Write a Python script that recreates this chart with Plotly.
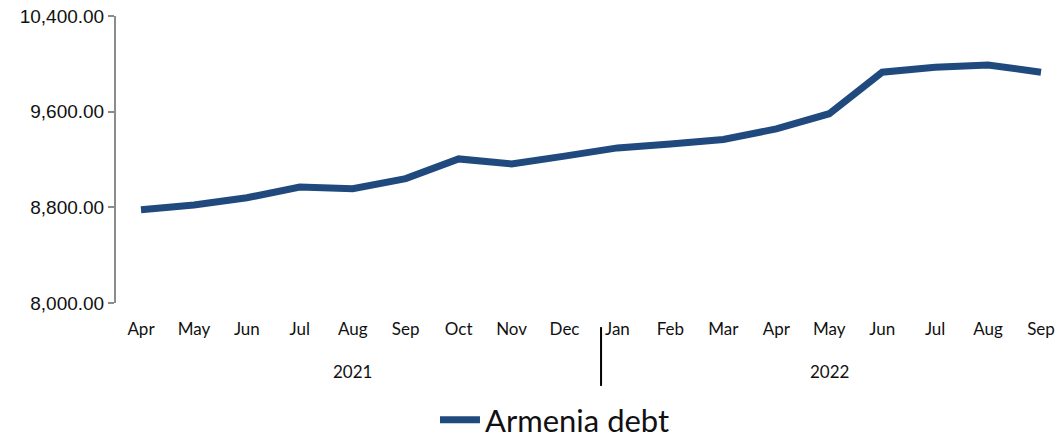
import plotly.graph_objects as go

# Monthly debt series, April 2021 – September 2022
months = ["Apr", "May", "Jun", "Jul", "Aug", "Sep", "Oct", "Nov", "Dec",
          "Jan", "Feb", "Mar", "Apr", "May", "Jun", "Jul", "Aug", "Sep"]
years = ["2021", "2022"]
year_month_counts = [9, 9]
debt = [8780, 8820, 8880, 8970, 8955, 9040, 9205, 9163, 9228,
        9297, 9330, 9367, 9456, 9583, 9930, 9972, 9990, 9930]
y_ticks = [8000, 8800, 9600, 10400]

x = list(range(len(months)))
line_color = "#204A7E"
text_font = "Lato, 'Open Sans', sans-serif"

fig = go.Figure()
fig.add_trace(go.Scatter(
    x=x, y=debt, mode="lines", name="Armenia debt",
    line=dict(color=line_color, width=7),
))

# Year labels centred under each group of months
annotations = []
start = 0
for yr, n in zip(years, year_month_counts):
    mid = start + (n - 1) / 2
    annotations.append(dict(
        x=mid, y=-0.237, xref="x", yref="paper", text=yr, showarrow=False,
        font=dict(family=text_font, size=17, color="#111"),
        xanchor="center", yanchor="middle",
    ))
    start += n

# Divider between the two year groups
shapes = [dict(
    type="line", xref="x", yref="paper",
    x0=8.69, x1=8.69, y0=-0.084, y1=-0.289,
    line=dict(color="#000", width=2),
)]

fig.update_layout(
    width=1060, height=440,
    margin=dict(l=116, r=10, t=16, b=137, autoexpand=False),
    paper_bgcolor="white", plot_bgcolor="white",
    showlegend=True,
    legend=dict(
        orientation="h", x=0.47, xanchor="center",
        yref="container", y=0.045, yanchor="middle",
        font=dict(family=text_font, size=31, color="#111"),
        itemwidth=40,
    ),
    annotations=annotations,
    shapes=shapes,
    xaxis=dict(
        range=[-0.472, 17.17],
        tickmode="array", tickvals=x, ticktext=months,
        showgrid=False, zeroline=False, showline=False, ticks="",
        ticklabelstandoff=14,
        tickfont=dict(family=text_font, size=17, color="#111"),
    ),
    yaxis=dict(
        range=[8000, 10400],
        tickmode="array", tickvals=y_ticks,
        tickformat=",.2f",
        showgrid=False, zeroline=False,
        showline=True, linecolor="#8c8c8c", linewidth=2,
        ticks="outside", ticklen=6, tickcolor="#8c8c8c", tickwidth=2,
        tickfont=dict(family="'Liberation Sans', Arial, sans-serif", size=19, color="#111"),
    ),
)

fig.write_html("out.html")
